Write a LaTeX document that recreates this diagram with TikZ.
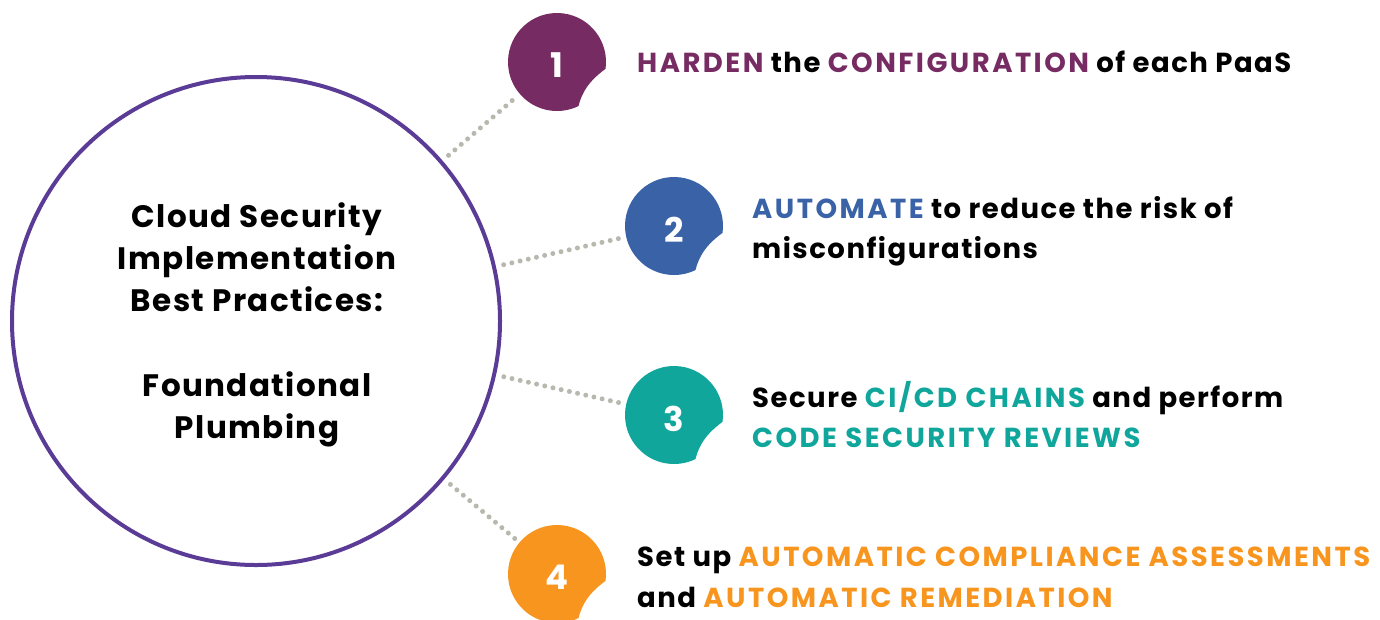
\documentclass[tikz,border=0pt]{standalone}
\usepackage{fontspec}
\setmainfont{Poppins}
\definecolor{cPurple}{HTML}{772B63}
\definecolor{cBlue}{HTML}{3A62A7}
\definecolor{cTeal}{HTML}{10A69B}
\definecolor{cOrange}{HTML}{F7951F}
\definecolor{cRing}{HTML}{5A3B96}
\definecolor{cDot}{HTML}{B9B8AF}
% highlighted capitals, set a little wider than the running text
\newcommand{\hl}[2]{\textcolor{#1}{\addfontfeatures{LetterSpace=9}#2}}
\begin{document}
\begin{tikzpicture}[x=1pt,y=-1pt,
  badgespot/.style={circle, minimum size=98pt, inner sep=0pt},
  num/.style={inner sep=0pt, text=white, font=\bfseries\fontsize{34}{34}\selectfont},
  hubring/.style={circle, draw=cRing, line width=4pt, minimum size=488pt, inner sep=0pt},
  dotline/.style={draw=cDot, line width=5pt, line cap=round, dash pattern=on 0pt off 8.4pt,
    shorten <=8pt, shorten >=5pt},
  title/.style={anchor=base, inner sep=0pt,
    font=\bfseries\fontsize{31}{31}\selectfont\addfontfeatures{LetterSpace=4.5}},
  item/.style={anchor=base west, inner sep=0pt,
    font=\bfseries\fontsize{27.5}{27.5}\selectfont\addfontfeatures{LetterSpace=5.5}}]
\useasboundingbox (0,0) rectangle (1380,619);

% central ring with its title
\node[hubring] (hub) at (256,321) {};
\node[title] (h1) at (257,227) {Cloud Security};
\node[title] (h2) at (257,269) {Implementation};
\node[title] (h3) at (257,311) {Best Practices:};
\node[title] (h4) at (257,396) {Foundational};
\node[title] (h5) at (257,438) {Plumbing};

% numbered badges: a disc with a curled-in lower right edge
\node[badgespot] (b1) at (557,62) {};
\node[badgespot] (b2) at (674,226) {};
\node[badgespot] (b3) at (674,415) {};
\node[badgespot] (b4) at (557,574) {};
\foreach \b/\c in {b1/cPurple, b2/cBlue, b3/cTeal, b4/cOrange}{
  \fill[\c, shift={(\b.center)}] (8:49) arc[start angle=8, end angle=-296, radius=49]
    .. controls (25,30) and (32,19) .. cycle;
}
\node[num] (n1) at ([yshift=-3.5pt]b1.center) {1};
\node[num] (n2) at ([yshift=-3.5pt]b2.center) {2};
\node[num] (n3) at ([yshift=-3.5pt]b3.center) {3};
\node[num] (n4) at ([yshift=-3.5pt]b4.center) {4};

% dotted connectors
\draw[dotline] (hub) -- (b1);
\draw[dotline] (hub) -- (b2);
\draw[dotline] (hub) -- (b3);
\draw[dotline] (hub) -- (b4);

% item texts
\node[item] (t1) at (637,72) {\hl{cPurple}{HARDEN} the \hl{cPurple}{CONFIGURATION} of each PaaS};
\node[item] (t2a) at (752,218) {\hl{cBlue}{AUTOMATE} to reduce the risk of};
\node[item] (t2b) at (752,258) {misconfigurations};
\node[item] (t3a) at (752,407) {Secure \hl{cTeal}{CI/CD CHAINS} and perform};
\node[item] (t3b) at (752,447) {\hl{cTeal}{CODE SECURITY REVIEWS}};
\node[item] (t4a) at (637,566) {Set up \hl{cOrange}{AUTOMATIC COMPLIANCE ASSESSMENTS}};
\node[item] (t4b) at (637,607) {and \hl{cOrange}{AUTOMATIC REMEDIATION}};
\end{tikzpicture}
\end{document}
